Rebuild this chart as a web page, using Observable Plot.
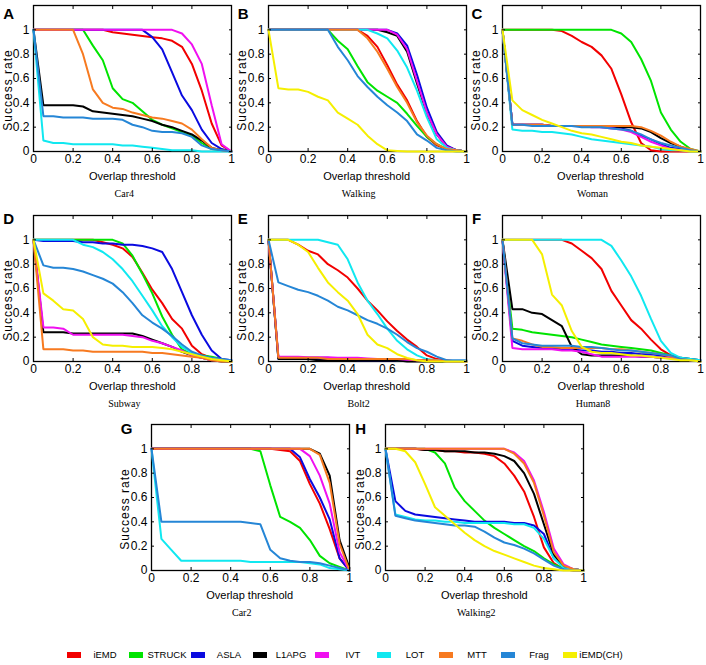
<!DOCTYPE html>
<html><head><meta charset="utf-8">
<script src="https://cdn.jsdelivr.net/npm/d3@7"></script>
<script src="https://cdn.jsdelivr.net/npm/@observablehq/plot@0.6"></script>
<style>
body{margin:0;background:#fff;}
#fig{position:relative;width:706px;height:665px;overflow:hidden;font-family:"Liberation Sans",Arial,sans-serif;color:#000;}
.panel{position:absolute;}
.letter{position:absolute;font-weight:bold;font-size:15px;line-height:15px;}
.seq{position:absolute;font-family:"Liberation Serif","DejaVu Serif",serif;font-size:10px;line-height:10px;transform:translate(-50%,-50%);white-space:nowrap;}
.xl{position:absolute;font-size:11px;line-height:11px;transform:translate(-50%,-50%);white-space:nowrap;}
.yl{position:absolute;font-size:12px;line-height:12px;letter-spacing:1px;transform:translate(-50%,-50%) rotate(-90deg);white-space:nowrap;}
.lg{position:absolute;font-size:9.5px;line-height:10px;white-space:nowrap;}
.sw{position:absolute;width:14px;height:6px;}
</style></head><body><div id="fig"></div>
<script>
const thresholds = [0,0.05,0.1,0.15,0.2,0.25,0.3,0.35,0.4,0.45,0.5,0.55,0.6,0.65,0.7,0.75,0.8,0.85,0.9,0.95,1];
const xTicks = [0,0.2,0.4,0.6,0.8,1];
const xTickLabels = ["0","0.2","0.4","0.6","0.8","1"];
const yTicks = [0,0.2,0.4,0.6,0.8,1];
const yTickLabels = ["0","0.2","0.4","0.6","0.8","1"];
const methods = ["iEMD","STRUCK","ASLA","L1APG","IVT","LOT","MTT","Frag","iEMD(CH)"];
const colors = ["#f20000","#00e400","#0a0ae0","#000000","#f010f0","#10e8f0","#f77a20","#2586d6","#f5ef00"];
const panelLetters = ["A","B","C","D","E","F","G","H"];
const panelNames = ["Car4","Walking","Woman","Subway","Bolt2","Human8","Car2","Walking2"];

// Series order in each panel follows `methods`; null = not plotted
const car4 = [
 [1,1,1,1,1,1,1,1,0.98,0.97,0.96,0.95,0.94,0.93,0.91,0.86,0.72,0.5,0.23,0.05,0],
 [1,1,1,1,1,1,0.87,0.75,0.52,0.43,0.4,0.33,0.26,0.22,0.19,0.16,0.13,0.07,0.02,0.01,0],
 [1,1,1,1,1,1,1,1,1,1,1,1,0.94,0.84,0.65,0.46,0.34,0.18,0.07,0.02,0],
 [1,0.38,0.38,0.38,0.38,0.37,0.33,0.32,0.31,0.3,0.29,0.27,0.25,0.22,0.2,0.17,0.14,0.09,0.03,0.01,0],
 [1,1,1,1,1,1,1,1,1,1,1,1,1,1,1,0.97,0.88,0.72,0.38,0.06,0],
 [1,0.09,0.07,0.07,0.06,0.06,0.06,0.06,0.06,0.05,0.05,0.04,0.03,0.02,0.01,0.01,0.01,0,0,0,0],
 [1,1,1,1,1,0.8,0.51,0.4,0.36,0.35,0.32,0.3,0.28,0.27,0.25,0.23,0.18,0.1,0.03,0.01,0],
 [1,0.29,0.29,0.28,0.28,0.28,0.27,0.27,0.27,0.26,0.22,0.2,0.17,0.16,0.16,0.15,0.12,0.05,0.02,0.01,0],
 null
];
const walking = [
 [1,1,1,1,1,1,1,1,1,1,0.95,0.86,0.71,0.55,0.42,0.25,0.12,0.05,0.02,0.01,0],
 [1,1,1,1,1,1,1,0.91,0.84,0.7,0.57,0.5,0.45,0.4,0.31,0.21,0.12,0.06,0.02,0.01,0],
 [1,1,1,1,1,1,1,1,1,1,1,1,1,0.97,0.87,0.63,0.36,0.16,0.05,0.01,0],
 [1,1,1,1,1,1,1,1,1,1,1,1,0.98,0.95,0.82,0.56,0.31,0.14,0.04,0.01,0],
 [1,1,1,1,1,1,1,1,1,1,1,1,1,0.96,0.84,0.58,0.32,0.14,0.04,0.01,0],
 [1,1,1,1,1,1,1,1,1,1,1,0.97,0.93,0.83,0.69,0.5,0.28,0.1,0.03,0.01,0],
 [1,1,1,1,1,1,1,1,1,1,0.93,0.82,0.68,0.53,0.4,0.24,0.13,0.06,0.02,0.01,0],
 [1,1,1,1,1,1,1,0.86,0.75,0.62,0.53,0.45,0.38,0.32,0.25,0.14,0.09,0.03,0.01,0,0],
 [1,0.52,0.51,0.51,0.49,0.45,0.42,0.32,0.27,0.22,0.13,0.06,0.01,0.005,0,0,0,0,0,0,0]
];
const woman = [
 [1,1,1,1,1,1,0.99,0.95,0.9,0.86,0.79,0.68,0.47,0.24,0.07,0.01,0,0,0,0,0],
 [1,1,1,1,1,1,1,1,1,1,1,1,0.97,0.9,0.76,0.58,0.32,0.18,0.08,0.02,0],
 [1,0.22,0.22,0.22,0.22,0.21,0.21,0.21,0.21,0.21,0.2,0.2,0.19,0.17,0.13,0.1,0.06,0.03,0.02,0.01,0],
 [1,0.22,0.22,0.22,0.22,0.21,0.21,0.21,0.21,0.21,0.21,0.21,0.2,0.2,0.19,0.16,0.11,0.07,0.04,0.01,0],
 [1,0.22,0.22,0.22,0.22,0.21,0.21,0.21,0.21,0.2,0.2,0.19,0.18,0.16,0.12,0.08,0.05,0.02,0.01,0.01,0],
 [1,0.18,0.17,0.17,0.16,0.16,0.15,0.14,0.12,0.1,0.09,0.08,0.07,0.06,0.05,0.04,0.02,0.01,0.01,0,0],
 [1,0.22,0.22,0.22,0.22,0.21,0.21,0.21,0.21,0.21,0.21,0.21,0.21,0.21,0.2,0.17,0.13,0.08,0.04,0.02,0],
 [1,0.22,0.22,0.21,0.21,0.21,0.21,0.21,0.2,0.2,0.2,0.19,0.18,0.17,0.14,0.1,0.07,0.05,0.03,0.01,0],
 [1,0.42,0.34,0.3,0.26,0.23,0.2,0.17,0.15,0.14,0.12,0.1,0.08,0.07,0.05,0.04,0.03,0.02,0.01,0,0]
];
const subway = [
 [1,1,1,1,1,1,1,0.98,0.96,0.93,0.86,0.73,0.59,0.48,0.35,0.27,0.13,0.06,0.03,0.01,0],
 [1,1,1,1,1,1,1,1,1,0.97,0.87,0.72,0.56,0.37,0.22,0.1,0.06,0.05,0.04,0.02,0],
 [1,0.99,0.99,0.99,0.99,0.98,0.98,0.97,0.97,0.96,0.96,0.95,0.93,0.9,0.76,0.57,0.38,0.22,0.09,0.02,0.01],
 [1,0.24,0.24,0.24,0.23,0.23,0.23,0.23,0.23,0.23,0.23,0.21,0.18,0.15,0.12,0.08,0.05,0.03,0.01,0,0],
 [1,0.28,0.28,0.27,0.22,0.22,0.22,0.22,0.22,0.22,0.21,0.2,0.17,0.15,0.12,0.09,0.05,0.03,0.01,0.01,0],
 [1,1,1,1,1,0.96,0.94,0.9,0.84,0.76,0.66,0.54,0.42,0.29,0.2,0.12,0.07,0.04,0.02,0.01,0],
 [1,0.1,0.1,0.1,0.09,0.09,0.08,0.08,0.08,0.08,0.08,0.08,0.07,0.07,0.06,0.05,0.04,0.03,0.01,0,0],
 [1,0.79,0.77,0.77,0.76,0.74,0.71,0.68,0.64,0.57,0.48,0.38,0.32,0.27,0.21,0.14,0.08,0.05,0.03,0.02,0.01],
 [1,0.56,0.5,0.43,0.42,0.35,0.2,0.14,0.13,0.13,0.12,0.12,0.12,0.11,0.1,0.08,0.06,0.04,0.02,0.01,0]
];
const bolt2 = [
 [1,1,1,0.96,0.91,0.88,0.8,0.75,0.69,0.6,0.5,0.42,0.33,0.25,0.18,0.12,0.05,0.02,0.01,0,0],
 [1,0.03,0.03,0.03,0.03,0.03,0.03,0.02,0.02,0.02,0.02,0.02,0.02,0.01,0.01,0.01,0.01,0,0,0,0],
 [1,0.02,0.02,0.02,0.02,0.02,0.02,0.02,0.02,0.01,0.01,0.01,0.01,0.01,0.01,0.01,0,0,0,0,0],
 [1,0.02,0.02,0.02,0.02,0.01,0.01,0.01,0.01,0.01,0.01,0.01,0.01,0.01,0,0,0,0,0,0,0],
 [1,0.04,0.04,0.04,0.035,0.035,0.035,0.03,0.03,0.03,0.025,0.02,0.02,0.02,0.015,0.01,0.01,0.01,0,0,0],
 [1,1,1,1,1,1,0.98,0.96,0.84,0.65,0.5,0.39,0.27,0.17,0.1,0.05,0.02,0.01,0,0,0],
 [1,0.03,0.03,0.03,0.03,0.03,0.02,0.02,0.02,0.02,0.02,0.02,0.02,0.02,0.02,0.01,0.01,0.01,0,0,0],
 [1,0.65,0.62,0.59,0.57,0.54,0.5,0.45,0.42,0.38,0.34,0.31,0.27,0.22,0.16,0.11,0.08,0.04,0.01,0.01,0.01],
 [1,1,1,0.96,0.9,0.77,0.65,0.57,0.5,0.39,0.22,0.14,0.11,0.06,0.03,0.01,0,0,0,0,0]
];
const human8 = [
 [1,1,1,1,1,1,1,0.97,0.91,0.85,0.76,0.58,0.46,0.34,0.27,0.18,0.1,0.05,0.02,0.01,0],
 [1,0.27,0.26,0.24,0.23,0.22,0.21,0.2,0.18,0.16,0.14,0.13,0.12,0.11,0.1,0.09,0.07,0.05,0.03,0.02,0.01],
 [1,0.17,0.13,0.12,0.11,0.11,0.1,0.1,0.09,0.09,0.08,0.08,0.07,0.07,0.06,0.06,0.05,0.04,0.03,0.02,0.01],
 [1,0.43,0.43,0.4,0.39,0.34,0.29,0.12,0.06,0.05,0.05,0.05,0.05,0.05,0.04,0.04,0.03,0.03,0.02,0.01,0],
 [1,0.11,0.1,0.1,0.1,0.1,0.09,0.09,0.08,0.06,0.04,0.04,0.04,0.04,0.04,0.04,0.03,0.03,0.02,0.01,0.01],
 [1,1,1,1,1,1,1,1,1,1,1,0.95,0.83,0.7,0.54,0.35,0.17,0.07,0.03,0.02,0.01],
 [1,0.19,0.17,0.14,0.12,0.12,0.11,0.11,0.11,0.11,0.11,0.1,0.1,0.09,0.08,0.07,0.06,0.04,0.02,0.01,0],
 [1,0.19,0.15,0.14,0.13,0.13,0.13,0.13,0.12,0.12,0.11,0.1,0.09,0.09,0.08,0.07,0.06,0.05,0.02,0.01,0],
 [1,1,1,1,0.88,0.55,0.46,0.25,0.12,0.08,0.07,0.07,0.06,0.05,0.05,0.04,0.03,0.02,0.01,0.01,0]
];
const car2 = [
 [1,1,1,1,1,1,1,1,1,1,1,1,1,0.99,0.98,0.9,0.71,0.55,0.34,0.1,0],
 [1,1,1,1,1,1,1,1,1,1,1,0.98,0.7,0.44,0.4,0.35,0.25,0.12,0.06,0.03,0],
 [1,1,1,1,1,1,1,1,1,1,1,1,1,1,1,0.93,0.75,0.6,0.42,0.1,0],
 [1,1,1,1,1,1,1,1,1,1,1,1,1,1,1,1,1,0.96,0.78,0.25,0.02],
 [1,1,1,1,1,1,1,1,1,1,1,1,1,1,1,1,0.94,0.78,0.55,0.15,0],
 [1,0.26,0.17,0.08,0.08,0.08,0.08,0.08,0.08,0.08,0.07,0.07,0.07,0.07,0.07,0.07,0.06,0.05,0.02,0.01,0],
 [1,1,1,1,1,1,1,1,1,1,1,1,1,1,1,1,1,0.95,0.72,0.22,0],
 [1,0.4,0.4,0.4,0.4,0.4,0.4,0.4,0.4,0.4,0.39,0.38,0.17,0.1,0.08,0.07,0.07,0.06,0.04,0.02,0],
 null
];
const walking2 = [
 [1,1,1,1,0.99,0.99,0.98,0.98,0.97,0.97,0.96,0.94,0.88,0.78,0.65,0.44,0.19,0.06,0.01,0,0],
 [1,1,1,1,1,0.97,0.88,0.68,0.57,0.49,0.41,0.35,0.3,0.25,0.2,0.16,0.1,0.05,0.02,0.01,0],
 [1,0.57,0.49,0.46,0.45,0.44,0.43,0.42,0.41,0.4,0.4,0.4,0.4,0.39,0.39,0.37,0.3,0.1,0.03,0.01,0],
 [1,1,1,1,0.99,0.99,0.98,0.98,0.98,0.97,0.97,0.96,0.94,0.9,0.8,0.63,0.38,0.13,0.03,0.01,0],
 [1,1,1,1,1,1,1,1,1,1,1,1,1,0.97,0.9,0.74,0.48,0.18,0.05,0.01,0],
 [1,0.46,0.44,0.42,0.41,0.41,0.4,0.4,0.39,0.39,0.39,0.39,0.39,0.38,0.38,0.35,0.26,0.1,0.02,0.01,0],
 [1,1,1,1,1,1,1,1,1,1,1,1,1,0.96,0.88,0.72,0.45,0.15,0.04,0.01,0],
 [1,0.45,0.43,0.41,0.4,0.39,0.38,0.37,0.37,0.36,0.32,0.27,0.23,0.21,0.18,0.14,0.09,0.04,0.01,0,0],
 [1,1,0.98,0.89,0.71,0.52,0.45,0.38,0.31,0.25,0.2,0.16,0.13,0.1,0.07,0.04,0.02,0.01,0,0,0]
];
const panelSeries = [car4, walking, woman, subway, bolt2, human8, car2, walking2];

// layout (page pixels of each plot frame)
const frames = [
 {left:33.3, top:5, letterTop:6},
 {left:267.7, top:5, letterTop:6},
 {left:501.5, top:5, letterTop:6},
 {left:33.3, top:214.5, letterTop:211},
 {left:267.7, top:214.5, letterTop:211},
 {left:502, top:214.5, letterTop:211},
 {left:150.7, top:424, letterTop:421},
 {left:385.3, top:424, letterTop:421}
];
const plotW = 198, plotH = 146, mL = 34, mR = 6, mT = 5, mB = 22;

const fig = document.getElementById("fig");
function addDiv(cls, text, style) {
  const d = document.createElement("div");
  d.className = cls; d.textContent = text;
  Object.assign(d.style, style);
  fig.appendChild(d);
  return d;
}

panelSeries.forEach((series, p) => {
  const f = frames[p];
  const rows = [];
  series.forEach((vals, i) => {
    if (!vals) return;
    vals.forEach((v, j) => rows.push({method: methods[i], t: thresholds[j], v}));
  });
  const chart = Plot.plot({
    width: plotW + mL + mR, height: plotH + mT + mB,
    marginLeft: mL, marginRight: mR, marginTop: mT, marginBottom: mB,
    x: {domain: [0, 1]},
    y: {domain: [0, 1.2]},
    color: {domain: methods, range: colors},
    style: {fontFamily: '"Liberation Sans", Arial, sans-serif', fontSize: "12px", color: "#000", background: "transparent", overflow: "visible"},
    marks: [
      Plot.frame({stroke: "#000", strokeWidth: 1.3}),
      Plot.line(rows, {x: "t", y: "v", z: "method", stroke: "method", strokeWidth: 2, strokeLinejoin: "miter"}),
      Plot.axisX({anchor: "bottom", ticks: xTicks, tickFormat: d => xTickLabels[xTicks.indexOf(d)], tickSize: -3, tickPadding: 6, label: null, fontSize: 12}),
      Plot.axisX({anchor: "top", ticks: xTicks, tickFormat: () => "", tickSize: -3, label: null}),
      Plot.axisY({anchor: "left", ticks: yTicks, tickFormat: d => yTickLabels[yTicks.indexOf(d)], tickSize: -3, tickPadding: 7, label: null, fontSize: 12}),
      Plot.axisY({anchor: "right", ticks: yTicks, tickFormat: () => "", tickSize: -3, label: null})
    ]
  });
  const holder = document.createElement("div");
  holder.className = "panel";
  holder.style.left = (f.left - mL) + "px";
  holder.style.top = (f.top - mT) + "px";
  holder.appendChild(chart);
  fig.appendChild(holder);

  const bottom = f.top + plotH;
  const cx = f.left + plotW / 2;
  addDiv("letter", panelLetters[p], {left: (f.left - 30) + "px", top: f.letterTop + "px"});
  addDiv("xl", "Overlap threshold", {left: cx + "px", top: (bottom + 25) + "px"});
  addDiv("yl", "Success rate", {left: (f.left - 25.5) + "px", top: (bottom - 0.5 * plotH / 1.2) + "px"});
  addDiv("seq", panelNames[p], {left: (cx - 8) + "px", top: (bottom + 43) + "px"});
});

// legend
methods.forEach((m, i) => {
  const x0 = 67 + 62 * i;
  addDiv("sw", "", {left: x0 + "px", top: "652px", background: colors[i]});
  addDiv("lg", m, {left: (x0 + 38) + "px", top: "650px", transform: "translateX(-50%)"});
});
</script>
</body></html>
